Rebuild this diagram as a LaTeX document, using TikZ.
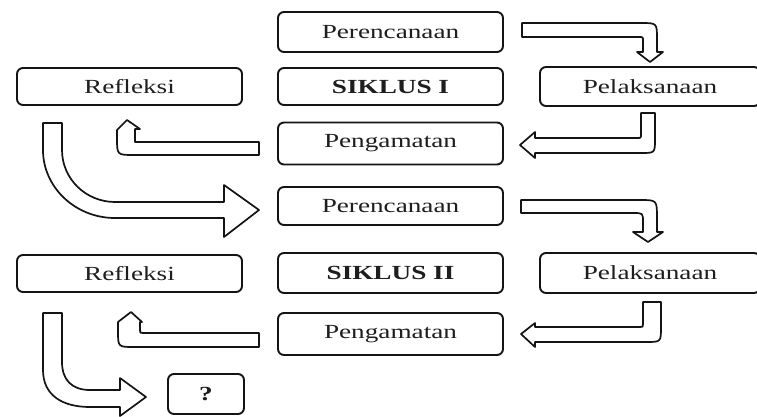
\documentclass[tikz,border=0pt]{standalone}
\usepackage{fontspec}
\setmainfont{Liberation Serif}
\usepackage{graphicx}
\definecolor{linec}{HTML}{141414}
\definecolor{textc}{HTML}{1E1E1E}
\newcommand{\sx}[1]{\scalebox{1.36}[1]{#1}}
\begin{document}
\begin{tikzpicture}[x=1pt,y=-1pt,
  box/.style={draw=linec, line width=1.9pt, rounded corners=6pt, fill=white,
    minimum width=225pt, minimum height=39pt, inner sep=0pt,
    font=\fontsize{20}{23}\selectfont, text=textc},
  barrow/.style={draw=linec, line width=1.7pt, fill=white, line join=round}]
\useasboundingbox (0,0) rectangle (757,416);
\clip (0,0) rectangle (757,416);
\fill[white] (0,0) rectangle (757,416);

% cycle I
\node[box, minimum height=40pt] (per1) at (390.5,32) {\sx{Perencanaan}};
\node[box, minimum height=37pt] (sik1) at (390.5,86.5) {\sx{\textbf{SIKLUS I}}};
\node[box, minimum height=42pt] (pen1) at (390.5,143.5) {\sx{Pengamatan}};
\node[box, minimum height=37pt] (ref1) at (129.5,86.5) {\sx{Refleksi}};
\node[box, minimum width=220pt, minimum height=39pt] (pel1) at (650,86.5) {\sx{Pelaksanaan}};

% cycle II
\node[box, minimum height=38pt] (per2) at (390.5,206) {\sx{Perencanaan}};
\node[box, minimum height=40pt] (sik2) at (390.5,273) {\sx{\textbf{SIKLUS II}}};
\node[box, minimum height=42pt] (pen2) at (390.5,334) {\sx{Pengamatan}};
\node[box, minimum height=37pt] (ref2) at (129.5,273.5) {\sx{Refleksi}};
\node[box, minimum width=220pt, minimum height=40pt] (pel2) at (650,273) {\sx{Pelaksanaan}};
\node[box, minimum width=76pt, minimum height=40pt] (q) at (206,394) {\sx{\textbf{?}}};

% block arrows, cycle I
\draw[barrow] (522,23) -- (641,23) .. controls (657,23) .. (657,39) -- (657,52)
  -- (663,52) -- (650,62) -- (637,52) -- (643,52) -- (643,41)
  .. controls (643,37) .. (639,37) -- (522,37) -- cycle;
\draw[barrow] (641,113) -- (655,113) -- (655,139) .. controls (655,153) .. (641,153)
  -- (535,153) -- (535,158) -- (520,145) -- (535,132) -- (535,138) -- (637,138)
  .. controls (641,138) .. (641,134) -- cycle;
\draw[barrow] (259,142) -- (259,155) -- (134,155) .. controls (117,155) .. (117,138)
  -- (117,130) -- (127,120) -- (140,129) -- (135,129) -- (135,142) -- cycle;
\draw[barrow] (43,123) -- (62,123) -- (62,150) .. controls (62,179) and (86,202) .. (115,202)
  -- (224,202) -- (224,185) -- (259,210) -- (224,237) -- (224,218) -- (115,218)
  .. controls (75,218) and (43,187) .. (43,150) -- cycle;

% block arrows, cycle II
\draw[barrow] (521,200) -- (640,200) .. controls (657,200) .. (657,218) -- (657,232)
  -- (663,232) -- (648,242) -- (633,232) -- (643,232) -- (643,222)
  .. controls (643,213) .. (633,213) -- (521,213) -- cycle;
\draw[barrow] (643,302) -- (661,302) -- (661,327) .. controls (661,342) .. (646,342)
  -- (535,342) -- (535,347) -- (521,334) -- (535,323) -- (535,327) -- (640,327)
  .. controls (643,327) .. (643,324) -- cycle;
\draw[barrow] (259,333) -- (259,347) -- (134,347) .. controls (118,347) .. (118,331)
  -- (118,322) -- (131,312) -- (142,322) -- (140,322) -- (140,330)
  .. controls (140,333) .. (143,333) -- cycle;
\draw[barrow] (43,313) -- (62,313) -- (62,362) .. controls (62,380) and (72,390) .. (90,390)
  -- (120,390) -- (120,378) -- (146,397) -- (120,416) -- (120,407) -- (90,407)
  .. controls (62,407) and (43,395) .. (43,370) -- cycle;
\end{tikzpicture}
\end{document}
